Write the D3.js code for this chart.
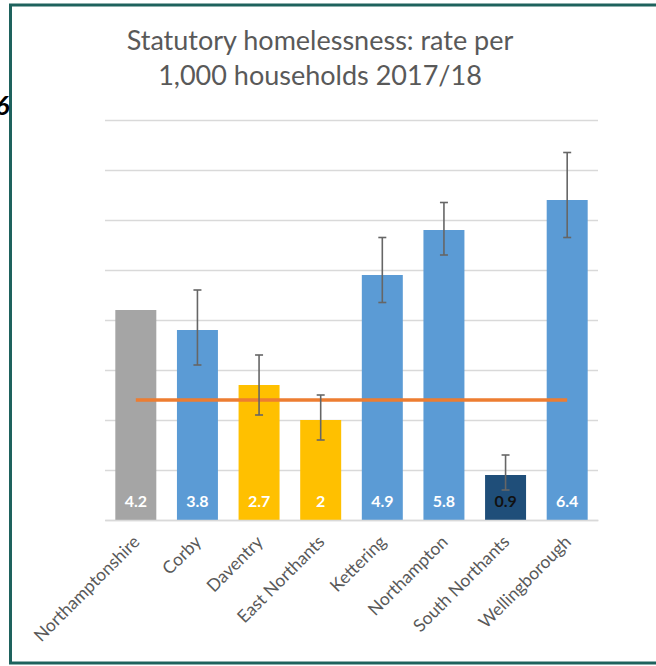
<!DOCTYPE html>
<html>
<head>
  <meta charset="utf-8">
  <title>Statutory homelessness</title>
  <style>
    body { margin: 0; background: #fff; }
  </style>
</head>
<body>
  <div class="container"></div>

  <script src="https://d3js.org/d3.v7.min.js"></script>
  <script>
    var categories = ["Northamptonshire", "Corby", "Daventry", "East Northants",
                      "Kettering", "Northampton", "South Northants", "Wellingborough"];
    var rates      = [4.2, 3.8, 2.7, 2, 4.9, 5.8, 0.9, 6.4];
    var ciLower    = [null, 3.1, 2.1, 1.6, 4.35, 5.3, 0.6, 5.65];
    var ciUpper    = [null, 4.6, 3.3, 2.5, 5.65, 6.35, 1.3, 7.35];
    var comparison = ["county", "higher", "similar", "similar", "higher", "higher", "lower", "higher"];
    var englandRate = 2.4;
    var yTicks = [0, 1, 2, 3, 4, 5, 6, 7, 8];

    var W = 656, H = 666;
    var margin = {top: 120, right: 58, bottom: 146, left: 105},
        width  = W - margin.left - margin.right,
        height = H - margin.top - margin.bottom;

    var svg = d3.select(".container").append("svg")
        .attr("width", W)
        .attr("height", H);

    // frame
    svg.append("rect")
        .attr("x", 10.5).attr("y", 5)
        .attr("width", W).attr("height", 658)
        .attr("fill", "#fff")
        .attr("stroke", "#1e625d")
        .attr("stroke-width", 3);

    // bit of text cut off at the left edge
    svg.append("text")
        .attr("x", -5).attr("y", 115)
        .attr("font-family", "Lato, sans-serif")
        .attr("font-size", 27).attr("font-weight", "bold").attr("font-style", "italic")
        .text("6");

    var font = "Lato, 'Open Sans', sans-serif";

    svg.append("text")
        .attr("x", 320).attr("y", 50)
        .attr("text-anchor", "middle")
        .attr("font-family", font).attr("font-size", 27)
        .attr("fill", "#595959")
        .text("Statutory homelessness: rate per");
    svg.append("text")
        .attr("x", 320).attr("y", 85)
        .attr("text-anchor", "middle")
        .attr("font-family", font).attr("font-size", 27)
        .attr("fill", "#595959")
        .text("1,000 households 2017/18");

    var g = svg.append("g")
        .attr("transform", "translate(" + margin.left + "," + margin.top + ")");

    var x = d3.scaleBand()
        .domain(categories)
        .range([0, width])
        .paddingInner(0.335)
        .paddingOuter(0.1675);

    var y = d3.scaleLinear()
        .domain([0, 8])
        .range([height, 0]);

    var colour = d3.scaleOrdinal()
        .domain(["county", "higher", "similar", "lower"])
        .range(["#a5a5a5", "#5b9bd5", "#ffc000", "#1f4e79"]);

    // gridlines
    g.append("g")
        .call(d3.axisLeft(y).tickValues(yTicks).tickSize(-width).tickFormat(""))
        .call(function(a) {
          a.select(".domain").remove();
          a.selectAll("line").attr("stroke", "#d9d9d9").attr("stroke-width", 1.5);
        });

    var data = categories.map(function(c, i) {
      return {name: c, value: rates[i], lo: ciLower[i], hi: ciUpper[i], group: comparison[i]};
    });

    g.selectAll(".bar")
        .data(data)
        .enter().append("rect")
        .attr("class", "bar")
        .attr("x", function(d) { return x(d.name); })
        .attr("y", function(d) { return y(d.value); })
        .attr("width", x.bandwidth())
        .attr("height", function(d) { return height - y(d.value); })
        .attr("fill", function(d) { return colour(d.group); });

    // England average line
    g.append("line")
        .attr("x1", x(categories[0]) + x.bandwidth() / 2)
        .attr("x2", x(categories[categories.length - 1]) + x.bandwidth() / 2)
        .attr("y1", y(englandRate)).attr("y2", y(englandRate))
        .attr("stroke", "#ed7d31").attr("stroke-width", 3.5);

    // error bars
    var eb = g.selectAll(".err")
        .data(data.filter(function(d) { return d.lo != null; }))
        .enter().append("g")
        .attr("class", "err")
        .attr("stroke", "#666").attr("stroke-width", 1.6);
    var cx = function(d) { return x(d.name) + x.bandwidth() / 2; };
    eb.append("line")
        .attr("x1", cx).attr("x2", cx)
        .attr("y1", function(d) { return y(d.lo); })
        .attr("y2", function(d) { return y(d.hi); });
    eb.append("line")
        .attr("x1", function(d) { return cx(d) - 4; }).attr("x2", function(d) { return cx(d) + 4; })
        .attr("y1", function(d) { return y(d.hi); }).attr("y2", function(d) { return y(d.hi); });
    eb.append("line")
        .attr("x1", function(d) { return cx(d) - 4; }).attr("x2", function(d) { return cx(d) + 4; })
        .attr("y1", function(d) { return y(d.lo); }).attr("y2", function(d) { return y(d.lo); });

    // value labels
    g.selectAll(".val")
        .data(data)
        .enter().append("text")
        .attr("class", "val")
        .attr("x", cx)
        .attr("y", height - 13)
        .attr("text-anchor", "middle")
        .attr("font-family", font).attr("font-size", 16).attr("font-weight", "bold")
        .attr("fill", function(d) { return d.group === "lower" ? "#111" : "#fff"; })
        .text(function(d) { return d.value; });

    // x axis
    var xAxis = g.append("g")
        .attr("transform", "translate(0," + height + ")")
        .call(d3.axisBottom(x).tickSize(0).tickPadding(0));
    xAxis.select(".domain").attr("stroke", "#d9d9d9").attr("stroke-width", 1.5);
    xAxis.selectAll("text")
        .attr("font-family", font).attr("font-size", 17.5)
        .attr("fill", "#595959")
        .attr("text-anchor", "end")
        .attr("dy", null)
        .attr("transform", "translate(5,23) rotate(-45)");
  </script>
</body>
</html>
